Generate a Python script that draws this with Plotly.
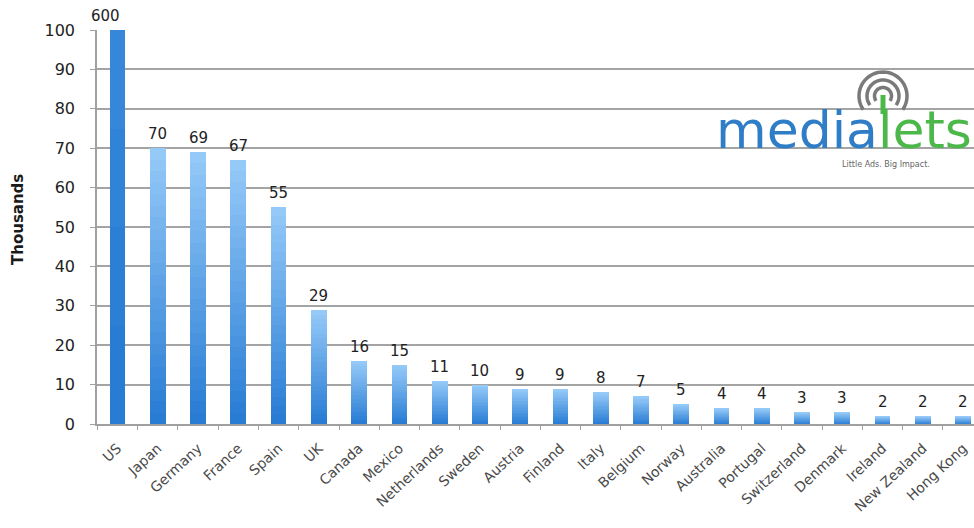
import math
import plotly.graph_objects as go

# Units shipped per country (thousands)
countries = ["US", "Japan", "Germany", "France", "Spain", "UK", "Canada", "Mexico",
             "Netherlands", "Sweden", "Austria", "Finland", "Italy", "Belgium", "Norway",
             "Australia", "Portugal", "Switzerland", "Denmark", "Ireland", "New Zealand",
             "Hong Kong"]
units_k = [600, 70, 69, 67, 55, 29, 16, 15, 11, 10, 9, 9, 8, 7, 5, 4, 4, 3, 3, 2, 2, 2]
y_ticks = [0, 10, 20, 30, 40, 50, 60, 70, 80, 90, 100]

W, H = 974, 528
ML, MR, MT, MB = 97, 0, 30, 104
PW, PH = W - ML - MR, H - MT - MB
Y_MAX = 100


def px_x(px):
    return (px - ML) / PW


def px_y(py):
    return (H - MB - py) / PH


def mix(c1, c2, t):
    return "rgb(%d,%d,%d)" % tuple(round(a + (b - a) * t) for a, b in zip(c1, c2))


dark, light = (40, 124, 212), (148, 201, 248)
n_steps = 24

fig = go.Figure()
# vertical gradient: each bar is built from stacked slices of its own value
for i in range(n_steps):
    fig.add_trace(go.Bar(
        x=countries,
        y=[v / n_steps for v in units_k],
        marker=dict(color=mix(dark, light, i / (n_steps - 1)), line=dict(width=0)),
        hoverinfo="skip",
        showlegend=False,
    ))

# value labels above bars (capped at the top of the axis)
for c, v in zip(countries, units_k):
    fig.add_annotation(
        x=c, y=min(v, Y_MAX), xref="x", yref="y", text=str(v),
        showarrow=False, yanchor="bottom", yshift=3,
        xshift=-12 if v > Y_MAX else 0,
        font=dict(family="DejaVu Sans", size=15, color="#222222"),
    )

# axis title
fig.add_annotation(
    x=px_x(18), y=px_y(220), xref="paper", yref="paper", text="<b>Thousands</b>",
    textangle=-90, showarrow=False, xanchor="center", yanchor="middle",
    font=dict(family="DejaVu Sans", size=15, color="#1a1a1a"),
)

# medialets logo
fig.add_annotation(
    x=px_x(714), y=px_y(148), xref="paper", yref="paper",
    text="<span style='color:#2f7dc6'>media</span><span style='color:#4cb84a'>lets</span>",
    showarrow=False, xanchor="left", yanchor="bottom", yshift=-14,
    font=dict(family="DejaVu Sans", size=52),
)
fig.add_annotation(
    x=px_x(886), y=px_y(164), xref="paper", yref="paper",
    text="Little Ads. Big Impact.", showarrow=False, xanchor="center", yanchor="middle",
    font=dict(family="DejaVu Sans", size=8, color="#666666"),
)

cx, cy = 883, 96
for r in (24, 16, 8.5):
    pts = []
    for k in range(41):
        a = math.radians(215 - 250 * k / 40)
        pts.append((px_x(cx + r * math.cos(a)), px_y(cy - r * math.sin(a))))
    path = "M " + " L ".join("%.5f,%.5f" % p for p in pts)
    fig.add_shape(type="path", path=path, xref="paper", yref="paper",
                  line=dict(color="#7a7a7a", width=3.5))
fig.add_shape(type="line", xref="paper", yref="paper",
              x0=px_x(cx), x1=px_x(cx), y0=px_y(95), y1=px_y(114),
              line=dict(color="#4cb84a", width=5))

fig.update_layout(
    width=W, height=H,
    margin=dict(l=ML, r=MR, t=MT, b=MB, pad=0),
    paper_bgcolor="white", plot_bgcolor="white",
    barmode="stack", bargap=0.61,
    font=dict(family="DejaVu Sans", color="#333333"),
)
fig.update_xaxes(
    range=[-0.51, 21.27], tickangle=-43,
    tickfont=dict(family="DejaVu Sans", size=14, color="#4a4a4a"),
    showline=True, linecolor="#a0a0a0", linewidth=1.5,
    ticks="outside", tickson="boundaries", ticklen=4, tickcolor="#a0a0a0",
    ticklabelstandoff=9,
    showgrid=False, zeroline=False, fixedrange=True,
)
fig.update_yaxes(
    range=[0, Y_MAX], tickvals=y_ticks,
    tickfont=dict(family="DejaVu Sans", size=16, color="#222222"),
    showline=True, linecolor="#a0a0a0", linewidth=1.5,
    ticks="outside", ticklen=5, tickcolor="#a0a0a0", ticklabelstandoff=12,
    showgrid=True, gridcolor="#a4a4a4", gridwidth=1.5,
    zeroline=False, fixedrange=True,
)

fig.write_html("out.html", config={"displayModeBar": False})
